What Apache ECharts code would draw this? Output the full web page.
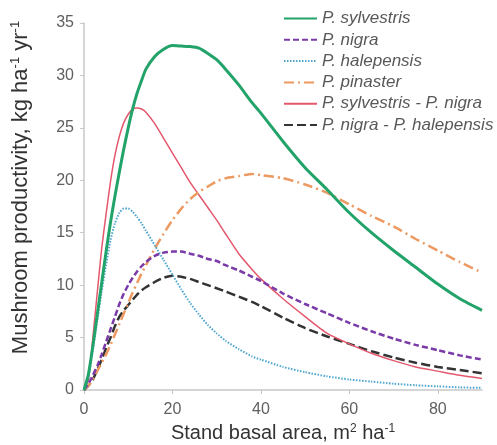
<!DOCTYPE html>
<html>
<head>
<meta charset="utf-8">
<script src="https://cdn.jsdelivr.net/npm/echarts@6/dist/echarts.min.js"></script>
<style>
  html, body { margin: 0; padding: 0; background: #fff; }
  #chart { width: 497px; height: 445px; }
</style>
</head>
<body>
<div id="chart"></div>
<script>
// Stand basal area (m2 ha-1) sample points shared by all curves
const basalArea = [0,1,2,3,4,5,6,7,8,9,10,11,12,13,14,16,18,20,22,24,26,28,30,32,35,38,40,45,50,55,60,65,70,75,80,85,90];

// Mushroom productivity (kg ha-1 yr-1) per stand type
const sylvestris = [0,1.5,4.2,7.2,10.2,13.2,16,18.5,20.8,23,25,26.8,28.3,29.5,30.6,31.8,32.5,32.85,32.8,32.75,32.6,32.1,31.5,30.6,29.1,27.4,26.4,23.7,21.2,19.1,16.9,15,13.3,11.7,10.1,8.7,7.6];
const nigra = [0,0.6,1.4,2.3,3.4,4.6,5.8,7,8.2,9.2,10,10.7,11.3,11.8,12.2,12.8,13.1,13.2,13.2,13,12.8,12.5,12.3,11.9,11.4,10.8,10.4,9.2,8.2,7.3,6.4,5.6,4.9,4.3,3.8,3.3,2.9];
const halepensis = [0,1.2,3.8,6.6,9.4,12,14.3,15.9,16.9,17.3,17.3,17,16.5,15.9,15.2,13.8,12.4,11,9.6,8.3,7.2,6.2,5.4,4.7,3.9,3.2,2.9,2.2,1.7,1.3,1,0.8,0.6,0.45,0.35,0.25,0.2];
const pinaster = [0,0.4,1,1.8,2.6,3.4,4.3,5.3,6.3,7.3,8.3,9.3,10.2,11.1,11.9,13.5,14.9,16.2,17.3,18.2,18.9,19.4,19.9,20.2,20.4,20.6,20.5,20.2,19.6,18.8,17.7,16.6,15.6,14.4,13.3,12.2,11.2];
const sylvestrisNigra = [0,1,5,9.3,13.5,16.8,19.9,22.4,24.2,25.5,26.3,26.8,26.9,26.8,26.5,25.4,24,22.6,21.2,19.8,18.6,17.4,16.2,14.9,13,11.5,10.6,8.7,7,5.4,4.4,3.5,2.8,2.2,1.8,1.4,1.1];
const nigraHalepensis = [0,0.4,1,1.9,2.9,4,5,6.1,7,7.6,8.1,8.6,9.1,9.5,9.8,10.3,10.7,10.9,10.8,10.6,10.3,10,9.7,9.4,8.9,8.4,8,6.9,5.9,5.1,4.4,3.7,3.1,2.6,2.2,1.9,1.6];

const seriesNames = ['P. sylvestris', 'P. nigra', 'P. halepensis', 'P. pinaster', 'P. sylvestris - P. nigra', 'P. nigra - P. halepensis'];
const seriesValues = [sylvestris, nigra, halepensis, pinaster, sylvestrisNigra, nigraHalepensis];

const styles = [
  { color: '#22a36a', width: 3, type: 'solid' },
  { color: '#7a3aa8', width: 2.5, type: [6, 3] },
  { color: '#4fa6cf', width: 2, type: [1.5, 1.5] },
  { color: '#ec9a62', width: 2.5, type: [10, 4, 2, 4] },
  { color: '#e3586d', width: 1.5, type: 'solid' },
  { color: '#333333', width: 2.5, type: [9, 4] }
];

const chart = echarts.init(document.getElementById('chart'), null, { renderer: 'canvas' });

const font = 'Liberation Sans, Arial, sans-serif';
const supStyle = { fontSize: 12, fontFamily: font, color: '#333', padding: [0, 0, 10, 0] };
const xNameStyle = { fontSize: 20, fontFamily: font, color: '#333' };
const yNameStyle = { fontSize: 22, fontFamily: font, color: '#333' };
const ySupStyle = { fontSize: 13, fontFamily: font, color: '#333', padding: [0, 0, 11, 0] };

chart.setOption({
  animation: false,
  backgroundColor: '#ffffff',
  grid: { left: 84, right: 15, top: 23, bottom: 55, containLabel: false, outerBoundsMode: 'none' },
  legend: {
    orient: 'vertical',
    left: 283,
    top: 10,
    padding: 0,
    itemWidth: 33,
    itemHeight: 14,
    itemGap: 4.3,
    itemStyle: { opacity: 0 },
    textStyle: { fontFamily: font, fontSize: 17, fontStyle: 'italic', color: '#585858' },
    data: seriesNames
  },
  xAxis: {
    type: 'value',
    min: 0, max: 90, interval: 20,
    name: '{t|Stand basal area, m}{s|2}{t| ha}{s|-1}',
    nameLocation: 'middle',
    nameGap: 32,
    nameTextStyle: { rich: { t: xNameStyle, s: supStyle } },
    axisLine: { lineStyle: { color: '#c8c8c8', width: 1.5 } },
    axisTick: { show: true, length: 4, lineStyle: { color: '#c8c8c8' } },
    axisLabel: { fontFamily: font, fontSize: 16, color: '#606060', margin: 12, showMaxLabel: false },
    splitLine: { show: false }
  },
  yAxis: {
    type: 'value',
    min: 0, max: 35, interval: 5,
    name: '{t|Mushroom productivity, kg ha}{s|-1}{t| yr}{s|-1}',
    nameLocation: 'middle',
    nameGap: 51,
    nameRotate: 90,
    nameTextStyle: { padding: [0, 0, 0, 38], rich: { t: yNameStyle, s: ySupStyle } },
    axisLine: { show: true, lineStyle: { color: '#c8c8c8', width: 1.5 } },
    axisTick: { show: true, length: 4, lineStyle: { color: '#c8c8c8' } },
    axisLabel: { fontFamily: font, fontSize: 16, color: '#606060', margin: 10 },
    splitLine: { show: false }
  },
  series: seriesNames.map((name, i) => ({
    name: name,
    type: 'line',
    smooth: 0.2,
    symbol: 'none',
    color: styles[i].color,
    lineStyle: { color: styles[i].color, width: styles[i].width, type: styles[i].type },
    data: basalArea.map((x, j) => [x, seriesValues[i][j]]),
    z: 10 - i
  }))
});
</script>
</body>
</html>
